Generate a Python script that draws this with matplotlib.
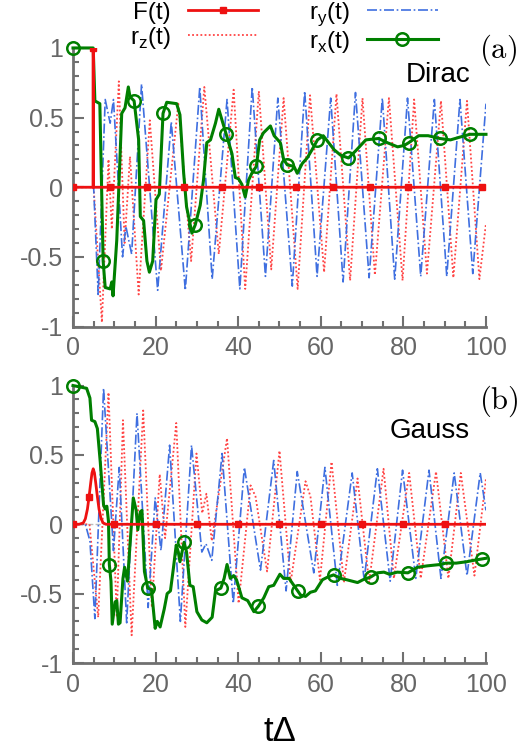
import matplotlib
matplotlib.use("Agg")
import matplotlib.pyplot as plt
import numpy as np
from matplotlib.ticker import MultipleLocator

plt.rcParams['font.family'] = ['Liberation Sans', 'DejaVu Sans']
plt.rcParams['axes.unicode_minus'] = False
plt.rcParams['mathtext.fontset'] = 'custom'
plt.rcParams['mathtext.rm'] = 'Liberation Sans'

# ---- panel (a): Dirac pulse, points (t, value)
F_a = [(0, 0), (4.85, 0), (4.9, 1), (4.95, 0), (9, 0), (18, 0), (27, 0), (36, 0), (45, 0),
       (54, 0), (63, 0), (72, 0), (81, 0), (90, 0), (99, 0), (100, 0)]
F_a_marks = [0, 4.9, 9, 18, 27, 36, 45, 54, 63, 72, 81, 90, 99]

rz_a = [(0, 0), (5.0, 0), (7.0, -0.97), (8.6, 0.2), (9.4, -0.3), (11.1, 0.76), (12.5, -0.4),
        (13.8, 0.22), (15.9, -0.77), (18.6, 0.48), (21.3, -0.6), (25.5, 0.6), (28.6, -0.53),
        (31.8, 0.72), (35.3, -0.48), (38.9, 0.70), (41.7, -0.73), (45.0, 0.69), (48.0, -0.59),
        (51.0, 0.64), (54.4, -0.73), (57.4, 0.66), (60.8, -0.61), (63.8, 0.67), (67.1, -0.67),
        (70.1, 0.64), (73.1, -0.63), (76.5, 0.64), (79.8, -0.67), (82.6, 0.63), (85.7, -0.62),
        (89.1, 0.62), (92.1, -0.65), (95.4, 0.62), (98.4, -0.66), (100, -0.26)]

ry_a = [(0, 0), (5.0, 0), (6.1, -0.77), (7.8, 0.63), (9.0, 0.46), (9.8, 0.63), (12.0, -0.50),
        (12.8, -0.28), (14.2, -0.48), (16.6, 0.74), (20.5, -0.74), (23.8, 0.47), (27.2, -0.74),
        (30.7, 0.72), (33.7, -0.66), (37.3, 0.63), (40.4, -0.73), (43.4, 0.72), (46.6, -0.64),
        (49.6, 0.64), (53.1, -0.71), (56.1, 0.69), (59.1, -0.64), (62.4, 0.64), (65.4, -0.68),
        (68.4, 0.68), (71.7, -0.65), (74.9, 0.64), (77.9, -0.66), (81.0, 0.64), (84.2, -0.64),
        (87.5, 0.63), (90.5, -0.64), (93.7, 0.63), (96.8, -0.62), (100, 0.60)]

rx_a = [(0, 1.0), (4.9, 1.0), (5.3, 0.62), (6.5, 0.60), (7.3, -0.53), (7.8, -0.72), (9.0, -0.73),
        (9.4, -0.68), (9.7, -0.78), (10.6, -0.38), (11.8, 0.53), (12.6, 0.57), (13.4, 0.72),
        (13.8, 0.65), (14.8, 0.62), (15.9, 0.34), (16.3, -0.21), (17.1, -0.24), (17.9, -0.53),
        (18.5, -0.61), (19.3, -0.53), (20.1, -0.09), (20.9, -0.05), (21.8, 0.53), (22.7, 0.61),
        (25.1, 0.60), (25.9, 0.52), (26.8, 0.10), (27.5, -0.14), (28.8, -0.33), (29.6, -0.27),
        (30.8, -0.13), (31.6, 0.05), (32.4, 0.32), (33.3, 0.34), (34.5, 0.46), (35.3, 0.56),
        (36.1, 0.48), (37.1, 0.38), (38.5, 0.24), (39.3, 0.07), (40.1, 0.06), (40.9, 0.02),
        (41.7, -0.07), (42.5, 0.05), (43.3, 0.10), (44.4, 0.15), (45.2, 0.34), (46.1, 0.39),
        (47.8, 0.44), (48.7, 0.37), (50.2, 0.32), (51.0, 0.20), (51.9, 0.16), (53.5, 0.15),
        (54.3, 0.10), (55.5, 0.17), (56.7, 0.21), (57.9, 0.27), (59.2, 0.34), (60.6, 0.37),
        (61.9, 0.32), (63.2, 0.27), (64.8, 0.23), (66.7, 0.21), (68.4, 0.26), (70.9, 0.34),
        (74.0, 0.35), (76.1, 0.32), (78.6, 0.29), (80.2, 0.30), (81.3, 0.32), (83.7, 0.37),
        (86.0, 0.37), (88.8, 0.35), (91.4, 0.34), (93.7, 0.36), (96.1, 0.38), (100, 0.38)]
rx_a_marks = [0, 7.3, 14.8, 21.8, 29.6, 37.1, 44.4, 51.9, 59.2, 66.7, 74.0, 81.3, 88.8, 96.1]

# ---- panel (b): Gauss pulse
F_b = [(0, 0), (1.5, 0), (2.5, 0.01), (3.0, 0.04), (3.5, 0.11), (3.9, 0.2), (4.3, 0.3),
       (4.6, 0.37), (4.9, 0.40), (5.2, 0.37), (5.5, 0.3), (5.9, 0.2), (6.3, 0.11), (6.8, 0.04),
       (7.3, 0.01), (8.0, 0), (10, 0), (20, 0), (30, 0), (40, 0), (50, 0), (60, 0), (70, 0),
       (80, 0), (90, 0), (100, 0)]
F_b_marks = [0, 3.9, 10, 20, 30, 40, 50, 60, 70, 80, 90]

rz_b = [(0, 0), (4.0, 0), (6.1, -0.67), (8.6, 0.95), (10.6, -0.67), (12.1, 0.75), (14.2, -0.80),
        (17.0, 0.82), (19.1, -0.60), (21.0, 0.36), (22.3, -0.10), (25.0, 0.73), (27.2, -0.74),
        (29.9, 0.51), (31.3, 0.08), (32.3, 0.22), (33.6, -0.12), (37.3, 0.62), (40.1, -0.57),
        (43.0, 0.28), (44.2, 0.20), (47.0, -0.34), (50.0, 0.53), (52.7, -0.42), (56.3, 0.31),
        (57.5, 0.20), (59.8, -0.40), (62.6, 0.45), (65.6, -0.42), (68.9, 0.33), (71.7, -0.42),
        (75.2, 0.40), (77.7, -0.39), (81.4, 0.37), (84.2, -0.39), (87.9, 0.38), (90.9, -0.39),
        (93.9, 0.37), (97.2, -0.37), (100, 0.33)]

ry_b = [(0, 0), (3.0, 0), (4.1, -0.12), (5.3, -0.68), (7.4, 0.98), (9.8, -0.19), (11.2, 0.41),
        (13.0, -0.71), (15.5, 0.80), (18.2, -0.60), (19.9, 0.19), (21.3, -0.19), (23.4, 0.57),
        (26.0, -0.70), (28.7, 0.57), (31.2, -0.20), (32.2, -0.14), (33.6, -0.26), (36.1, 0.51),
        (38.8, -0.57), (41.5, 0.41), (45.4, -0.33), (48.6, 0.46), (51.6, -0.48), (54.3, 0.38),
        (58.3, -0.35), (61.0, 0.41), (64.0, -0.44), (67.6, 0.37), (70.5, -0.40), (73.7, 0.40),
        (76.8, -0.41), (79.8, 0.39), (83.0, -0.39), (86.2, 0.39), (89.1, -0.39), (92.3, 0.37),
        (95.4, -0.37), (98.6, 0.37), (100, 0.10)]

rx_b = [(0, 1.0), (3.3, 0.98), (4.1, 0.91), (4.5, 0.75), (5.3, 0.74), (5.9, 0.69), (6.6, 0.45),
        (7.4, 0.14), (7.8, 0.11), (8.2, 0.13), (8.6, 0.02), (8.8, -0.29), (9.2, -0.41),
        (9.5, -0.72), (10.2, -0.56), (10.6, -0.55), (11.0, -0.72), (11.4, -0.71), (12.1, -0.39),
        (12.5, -0.31), (13.2, -0.41), (13.8, -0.15), (14.6, 0.19), (15.3, 0.10), (15.7, -0.04),
        (16.3, 0.09), (16.7, 0.10), (17.3, -0.34), (18.1, -0.46), (19.0, -0.47), (19.9, -0.75),
        (20.4, -0.70), (21.1, -0.74), (22.1, -0.61), (22.8, -0.50), (23.6, -0.48), (24.3, -0.32),
        (25.0, -0.15), (25.5, -0.20), (25.9, -0.27), (26.4, -0.20), (26.9, -0.13), (27.5, -0.20),
        (28.3, -0.44), (29.1, -0.45), (30.0, -0.63), (31.2, -0.69), (32.4, -0.71), (33.7, -0.67),
        (34.5, -0.48), (35.8, -0.46), (36.6, -0.39), (37.3, -0.29), (38.1, -0.39), (38.9, -0.37),
        (39.6, -0.40), (40.9, -0.53), (42.3, -0.55), (43.8, -0.63), (44.9, -0.59), (46.2, -0.53),
        (47.4, -0.45), (48.6, -0.44), (50.1, -0.36), (51.0, -0.39), (52.3, -0.39), (54.4, -0.48),
        (55.1, -0.51), (56.3, -0.52), (57.5, -0.49), (58.7, -0.48), (60.4, -0.40), (61.7, -0.38),
        (63.1, -0.365), (64.8, -0.39), (66.3, -0.40), (68.9, -0.42), (70.2, -0.40), (72.1, -0.38),
        (73.7, -0.35), (75.3, -0.345), (76.6, -0.36), (78.5, -0.345), (81.1, -0.35), (83.4, -0.31),
        (85.7, -0.30), (88.9, -0.29), (90.3, -0.28), (92.8, -0.28), (95.3, -0.27), (97.0, -0.26),
        (99.0, -0.25), (100, -0.245)]
rx_b_marks = [0, 8.8, 18.1, 26.9, 35.8, 44.9, 54.4, 63.1, 72.1, 81.1, 90.3, 99.0]

GRAY = '#707070'
RED = '#ee1111'
BLUE = '#3f6fe0'
GREEN = '#007f00'


def idx_of(t, marks):
    return [int(np.argmin(np.abs(t - m))) for m in marks]


def draw_panel(ax, F, F_marks, rz, ry, rx, rx_marks, tag, tag_y, name, name_xy):
    F = np.array(F, dtype=float).T
    rz = np.array(rz, dtype=float).T
    ry = np.array(ry, dtype=float).T
    rx = np.array(rx, dtype=float).T

    ax.axhline(0, color='#bbbbbb', ls='--', lw=1, zorder=1)
    lz, = ax.plot(rz[0], rz[1], color='#ff4444', ls=(0, (1, 1.3)), lw=1.3, zorder=2,
                  label=r'r$_\mathregular{z}$(t)')
    ly, = ax.plot(ry[0], ry[1], color=BLUE, ls=(0, (6, 1.6, 1, 1.6)), lw=1.2, zorder=2,
                  label=r'r$_\mathregular{y}$(t)')
    lf, = ax.plot(F[0], F[1], color=RED, lw=2, marker='s', ms=4.5, mec=RED,
                  markevery=idx_of(F[0], F_marks), zorder=4, label='F(t)')
    lx, = ax.plot(rx[0], rx[1], color=GREEN, lw=2.2, marker='o', ms=9, mfc='none', mew=1.8,
                  markevery=idx_of(rx[0], rx_marks), zorder=3, label=r'r$_\mathregular{x}$(t)',
                  clip_on=False)

    ax.set_xlim(0, 100)
    ax.set_ylim(-1, 1)
    ax.set_xticks([0, 20, 40, 60, 80, 100])
    ax.set_yticks([-1, -0.5, 0, 0.5, 1])
    ax.set_yticklabels(['-1', '-0.5', '0', '0.5', '1'])
    ax.xaxis.set_minor_locator(MultipleLocator(5))
    ax.yaxis.set_minor_locator(MultipleLocator(0.1))
    for s in ['top', 'right']:
        ax.spines[s].set_visible(False)
    for s in ['left', 'bottom']:
        ax.spines[s].set_color(GRAY)
        ax.spines[s].set_linewidth(2)
    ax.tick_params(which='both', direction='in', colors=GRAY, width=1.5)
    ax.tick_params(which='major', length=8, labelsize=18, pad=7, labelcolor='#666666')
    ax.tick_params(which='minor', length=4)
    ax.set_facecolor('none')

    ax.text(1.03, tag_y, tag, transform=ax.transAxes, fontsize=22, math_fontfamily='cm',
            ha='center', va='center')
    ax.text(name_xy[0], name_xy[1], name, transform=ax.transAxes, fontsize=20,
            ha='center', va='center')
    return [lf, lz, ly, lx]


fig = plt.figure(figsize=(5.18, 7.53), dpi=100)
ax1 = fig.add_axes([0.1409, 0.5664, 0.7973, 0.3699])
ax2 = fig.add_axes([0.1409, 0.1195, 0.7973, 0.3685])

handles = draw_panel(ax1, F_a, F_a_marks, rz_a, ry_a, rx_a, rx_a_marks, r'$\mathrm{(a)}$', 0.99,
                     'Dirac', (0.884, 0.904))
draw_panel(ax2, F_b, F_b_marks, rz_b, ry_b, rx_b, rx_b_marks, r'$\mathrm{(b)}$', 0.945,
           'Gauss', (0.864, 0.835))

ax2.set_xlabel('t\u0394', fontsize=25, labelpad=13)

fig.legend(handles=handles, ncol=2, markerfirst=False, frameon=False, fontsize=17.5,
           loc='upper left', bbox_to_anchor=(130 / 518, 1 - 0 / 753), borderpad=0,
           handlelength=2.9, handletextpad=0.7, columnspacing=2.1, labelspacing=0.05,
           borderaxespad=0)

fig.savefig('out.png', dpi=100)
